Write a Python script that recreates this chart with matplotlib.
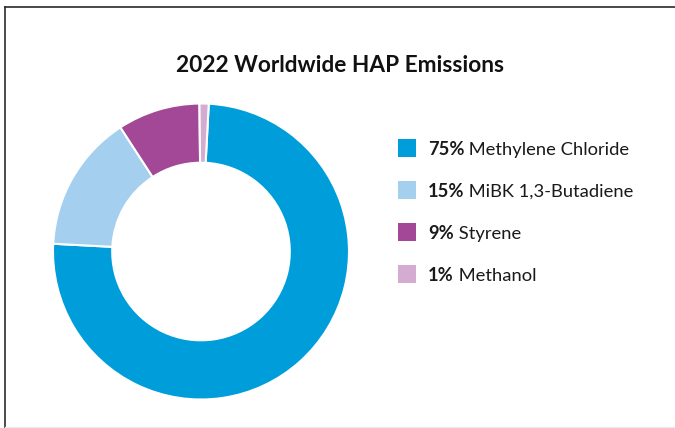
import matplotlib.pyplot as plt
from matplotlib.lines import Line2D

plt.rcParams['font.family'] = ['Lato', 'DejaVu Sans']

title = "2022 Worldwide HAP Emissions"
labels = ["Methylene Chloride", "MiBK 1,3-Butadiene", "Styrene", "Methanol"]
shares = [75, 15, 9, 1]
colors = ["#009ddb", "#a4cfee", "#a24896", "#d4acd2"]

W, H = 675, 428
fig = plt.figure(figsize=(W / 100, H / 100), dpi=100)

# donut
cx, cy, r = 201, 251.5, 148
ax = fig.add_axes([(cx - r) / W, (H - cy - r) / H, 2 * r / W, 2 * r / H])
ax.pie(shares, colors=colors, startangle=87, counterclock=False, radius=1,
       wedgeprops=dict(width=0.4, edgecolor="white", linewidth=1.5))
ax.set_xlim(-1, 1)
ax.set_ylim(-1, 1)
ax.set_aspect("equal")
ax.axis("off")

# overlay in pixel coords for title / legend
ov = fig.add_axes([0, 0, 1, 1])
ov.set_xlim(0, W)
ov.set_ylim(H, 0)
ov.axis("off")

ov.text(340, 72, title, ha="center", va="baseline", fontsize=16.3,
        fontweight="bold", color="#111111")

row0, step = 147.5, 42
for i, (lab, pct, c) in enumerate(zip(labels, shares, colors)):
    y = row0 + step * i
    ov.scatter([406.5], [y], s=185, marker="s", color=c, linewidths=0)
    t = ov.text(428, y + 7.5, f"{pct}%", ha="left", va="baseline",
                fontsize=13.2, fontweight="bold", color="#1a1a1a")
    ov.annotate(" " + lab, xy=(1, 0), xycoords=t, ha="left", va="bottom",
                fontsize=13.2, color="#1a1a1a")

# frame lines
fig.add_artist(Line2D([5.5 / W, 1], [1 - 7 / H, 1 - 7 / H], color="#2a2a2a", lw=1.2))
fig.add_artist(Line2D([5.5 / W, 5.5 / W], [0, 1 - 7 / H], color="#2a2a2a", lw=1.2))
fig.add_artist(Line2D([5.5 / W, 1], [1 / H, 1 / H], color="#ececec", lw=1))

fig.savefig("out.png", dpi=100)
